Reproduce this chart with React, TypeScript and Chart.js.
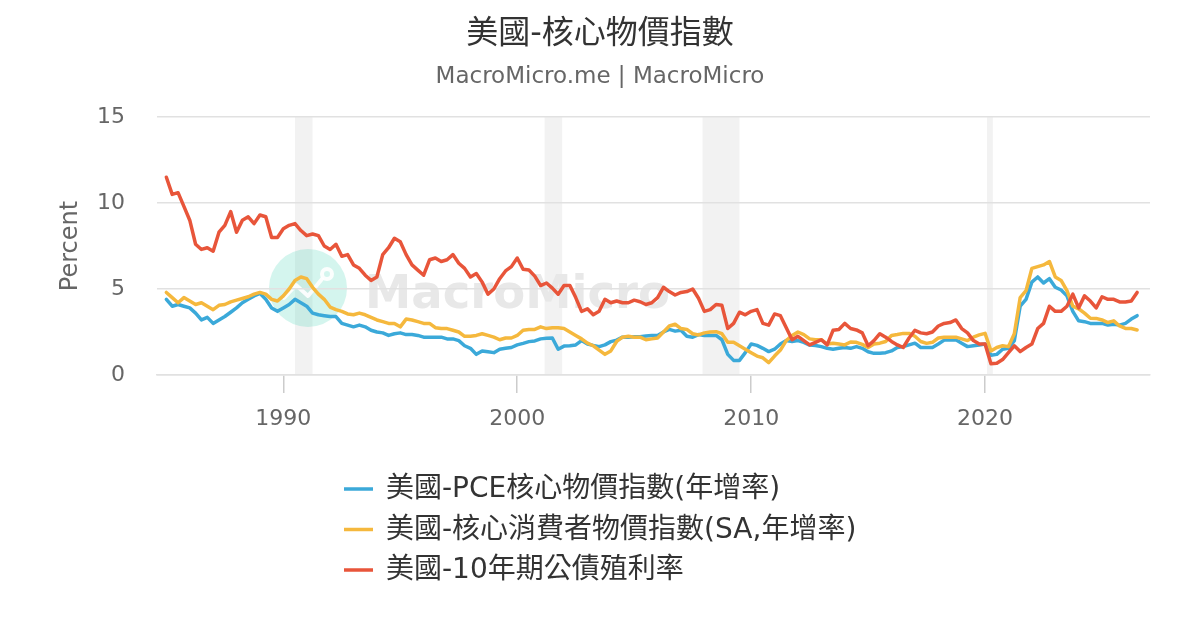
import React, { useEffect, useRef } from 'react';
import { Chart, registerables } from 'chart.js';

Chart.register(...registerables);

const FONT = "'DejaVu Sans', 'Noto Sans CJK TC', sans-serif";

const START_YEAR = 1985; // first quarter of the series, quarterly steps

// 美國-PCE核心物價指數(年增率)
const pceCore = [
  4.4, 4.0, 4.1, 4.0, 3.9, 3.6, 3.2, 3.35, 3.0, 3.2, 3.4, 3.65, 3.9, 4.2, 4.4, 4.6, 4.75, 4.4, 3.9, 3.7, 3.9, 4.1, 4.4, 4.2, 4.0, 3.6, 3.5, 3.45,
  3.4, 3.4, 3.0, 2.9, 2.8, 2.9, 2.8, 2.6, 2.5, 2.45, 2.3, 2.4, 2.45, 2.35, 2.35, 2.3, 2.2, 2.2, 2.2, 2.2, 2.1, 2.1, 2.0, 1.7, 1.55, 1.2, 1.4, 1.35,
  1.3, 1.5, 1.55, 1.6, 1.75, 1.84, 1.94, 1.98, 2.1, 2.13, 2.15, 1.5, 1.68, 1.7, 1.75, 2.0, 1.8, 1.72, 1.65, 1.75, 1.94, 2.03, 2.2, 2.2, 2.23, 2.23, 2.27, 2.3, 2.3,
  2.5, 2.65, 2.55, 2.6, 2.25, 2.2, 2.35, 2.3, 2.3, 2.3, 2.05, 1.2, 0.85, 0.85, 1.3, 1.8, 1.72, 1.55, 1.36, 1.5, 1.8, 2.0, 1.95, 2.0, 1.9, 1.74, 1.72, 1.65, 1.55, 1.5, 1.55,
  1.6, 1.55, 1.65, 1.55, 1.35, 1.26, 1.26, 1.3, 1.4, 1.6, 1.65, 1.75, 1.85, 1.6, 1.6, 1.6, 1.8, 2.03, 2.03, 2.05, 1.85, 1.65, 1.7, 1.74,
  1.8, 1.15, 1.2, 1.5, 1.55, 2.0, 4.0, 4.4, 5.4, 5.7, 5.35, 5.6, 5.1, 4.94, 4.6, 3.7, 3.15, 3.1, 3.0, 3.0, 3.0, 2.9, 2.95, 2.9, 3.0, 3.25, 3.45,
];

// 美國-核心消費者物價指數(SA,年增率)
const cpiCore = [
  4.8, 4.5, 4.2, 4.5, 4.3, 4.1, 4.2, 4.0, 3.8, 4.05, 4.1, 4.25, 4.35, 4.45, 4.55, 4.7, 4.8, 4.7, 4.4, 4.3, 4.6, 5.0, 5.5, 5.7, 5.6, 5.1, 4.7, 4.4,
  3.95, 3.8, 3.7, 3.55, 3.5, 3.6, 3.5, 3.35, 3.2, 3.1, 3.0, 3.0, 2.8, 3.25, 3.2, 3.1, 3.0, 3.0, 2.75, 2.7, 2.7, 2.6, 2.5, 2.25, 2.25, 2.3, 2.4, 2.3,
  2.2, 2.05, 2.15, 2.15, 2.3, 2.6, 2.65, 2.65, 2.8, 2.7, 2.75, 2.75, 2.7, 2.5, 2.3, 2.1, 1.85, 1.7, 1.45, 1.2, 1.4, 1.95, 2.2, 2.25, 2.2, 2.2, 2.05, 2.1, 2.15,
  2.5, 2.85, 2.95, 2.7, 2.65, 2.4, 2.33, 2.45, 2.5, 2.52, 2.4, 1.9, 1.9, 1.7, 1.5, 1.3, 1.1, 1.0, 0.72, 1.1, 1.45, 2.0, 2.3, 2.5, 2.35, 2.1, 2.05, 2.05, 1.8, 1.85, 1.8,
  1.75, 1.92, 1.9, 1.78, 1.6, 1.8, 1.85, 1.95, 2.3, 2.35, 2.42, 2.42, 2.25, 1.95, 1.84, 1.9, 2.15, 2.2, 2.2, 2.2, 2.1, 2.0, 2.2, 2.33,
  2.42, 1.4, 1.6, 1.7, 1.65, 2.4, 4.5, 4.9, 6.2, 6.3, 6.4, 6.6, 5.7, 5.5, 4.9, 4.0, 3.85, 3.6, 3.3, 3.29, 3.2, 3.05, 3.15, 2.85, 2.71, 2.7, 2.62,
];

// 美國-10年期公債殖利率
const tenYear = [
  11.5, 10.5, 10.6, 9.8, 9.0, 7.6, 7.3, 7.4, 7.2, 8.3, 8.7, 9.5, 8.3, 9.0, 9.2, 8.8, 9.3, 9.2, 8.0, 8.0, 8.5, 8.7, 8.8, 8.4, 8.1, 8.2, 8.1, 7.5,
  7.3, 7.6, 6.9, 7.0, 6.4, 6.2, 5.8, 5.5, 5.7, 7.0, 7.4, 7.95, 7.75, 7.0, 6.4, 6.1, 5.8, 6.7, 6.8, 6.6, 6.7, 7.0, 6.5, 6.2, 5.7, 5.9, 5.4, 4.7,
  5.0, 5.6, 6.05, 6.3, 6.8, 6.15, 6.1, 5.75, 5.2, 5.35, 5.05, 4.7, 5.2, 5.2, 4.5, 3.7, 3.85, 3.5, 3.7, 4.4, 4.2, 4.3, 4.2, 4.2, 4.35, 4.26, 4.1, 4.2, 4.5,
  5.1, 4.85, 4.65, 4.8, 4.85, 5.0, 4.46, 3.7, 3.8, 4.1, 4.05, 2.7, 3.0, 3.65, 3.5, 3.7, 3.8, 3.0, 2.9, 3.55, 3.45, 2.75, 2.05, 2.25, 2.0, 1.75, 1.9, 2.05, 1.75, 2.6, 2.65,
  3.0, 2.7, 2.62, 2.45, 1.7, 2.0, 2.4, 2.2, 1.95, 1.75, 1.6, 2.15, 2.6, 2.45, 2.4, 2.5, 2.85, 3.0, 3.05, 3.2, 2.7, 2.45, 2.0, 1.8,
  1.8, 0.65, 0.68, 0.9, 1.3, 1.7, 1.36, 1.6, 1.8, 2.7, 3.0, 4.0, 3.7, 3.7, 4.0, 4.7, 3.9, 4.6, 4.3, 3.9, 4.55, 4.4, 4.4, 4.25, 4.25, 4.3, 4.8,
];

const seriesLabels = ['美國-PCE核心物價指數(年增率)', '美國-核心消費者物價指數(SA,年增率)', '美國-10年期公債殖利率'];
const seriesColors = ['#3ba9d9', '#f5b83d', '#e8553a'];

const xTickYears = [1990, 2000, 2010, 2020];
const yTickValues = [0, 5, 10, 15];

const recessionStart = [1990.5, 2001.17, 2007.92, 2020.08];
const recessionEnd = [1991.25, 2001.92, 2009.5, 2020.33];

const TITLE = '美國-核心物價指數';
const SUBTITLE = 'MacroMicro.me | MacroMicro';

const quarterDates = tenYear.map((_, i) => START_YEAR + i / 4);
const toPoints = (vals: number[]) => vals.map((v, i) => ({ x: quarterDates[i], y: v }));

const decorPlugin = {
  id: 'decor',
  beforeDraw(chart: any) {
    const { ctx, chartArea, scales } = chart;
    const xs = scales.x;
    ctx.save();
    // recession bands
    ctx.fillStyle = '#f2f2f2';
    recessionStart.forEach((s, i) => {
      const x0 = xs.getPixelForValue(s);
      const x1 = xs.getPixelForValue(recessionEnd[i]);
      ctx.fillRect(x0, chartArea.top, x1 - x0, chartArea.bottom - chartArea.top);
    });
    // watermark
    const cx = 308;
    const cy = 288;
    ctx.beginPath();
    ctx.arc(cx, cy, 39, 0, Math.PI * 2);
    ctx.fillStyle = 'rgba(84, 214, 186, 0.25)';
    ctx.fill();
    ctx.strokeStyle = 'rgba(255,255,255,0.9)';
    ctx.lineWidth = 4;
    ctx.lineCap = 'round';
    ctx.lineJoin = 'round';
    ctx.beginPath();
    ctx.moveTo(cx - 24, cy + 10);
    ctx.lineTo(cx - 12, cy - 3);
    ctx.lineTo(cx, cy + 8);
    ctx.lineTo(cx + 14, cy - 9);
    ctx.stroke();
    ctx.beginPath();
    ctx.arc(cx + 19, cy - 14, 5, 0, Math.PI * 2);
    ctx.stroke();
    let size = 50;
    ctx.font = `bold ${size}px ${FONT}`;
    const w = ctx.measureText('MacroMicro').width;
    size = size * 305 / w;
    ctx.font = `bold ${size}px ${FONT}`;
    ctx.fillStyle = '#e8e8e8';
    ctx.textAlign = 'left';
    ctx.textBaseline = 'alphabetic';
    ctx.fillText('MacroMicro', 365, 308);
    ctx.restore();
  },
  afterDraw(chart: any) {
    const { ctx, width } = chart;
    ctx.save();
    ctx.textAlign = 'center';
    ctx.textBaseline = 'middle';
    ctx.fillStyle = '#333333';
    ctx.font = `32px ${FONT}`;
    ctx.fillText(TITLE, width / 2, 35);
    ctx.fillStyle = '#666666';
    ctx.font = `23px ${FONT}`;
    ctx.fillText(SUBTITLE, width / 2, 77);
    // legend
    const left = 344;
    const top = 489;
    const gap = 40.5;
    ctx.textAlign = 'left';
    ctx.font = `28px ${FONT}`;
    seriesLabels.forEach((label, i) => {
      const y = top + i * gap;
      ctx.strokeStyle = seriesColors[i];
      ctx.lineWidth = 3.5;
      ctx.beginPath();
      ctx.moveTo(left, y);
      ctx.lineTo(left + 29, y);
      ctx.stroke();
      ctx.fillStyle = '#333333';
      ctx.fillText(label, left + 42, y + 1);
    });
    ctx.restore();
  },
};

export default function App() {
  const canvasRef = useRef<HTMLCanvasElement | null>(null);

  useEffect(() => {
    document.body.style.margin = '0';
    const canvas = canvasRef.current;
    if (!canvas) return;
    const chart = new Chart(canvas, {
      type: 'line',
      data: {
        datasets: [
          { label: seriesLabels[0], data: toPoints(pceCore), borderColor: seriesColors[0], backgroundColor: seriesColors[0], order: 3 },
          { label: seriesLabels[1], data: toPoints(cpiCore), borderColor: seriesColors[1], backgroundColor: seriesColors[1], order: 2 },
          { label: seriesLabels[2], data: toPoints(tenYear), borderColor: seriesColors[2], backgroundColor: seriesColors[2], order: 1 },
        ],
      },
      options: {
        responsive: false,
        animation: false,
        layout: { padding: { top: 117, left: 0, right: 50, bottom: 195 } },
        elements: {
          point: { radius: 0, hoverRadius: 0 },
          line: { borderWidth: 3.5, tension: 0, borderJoinStyle: 'round', borderCapStyle: 'round' },
        },
        plugins: {
          legend: { display: false },
          title: { display: false },
          tooltip: { enabled: false },
        },
        scales: {
          x: {
            type: 'linear',
            min: 1984.6,
            max: 2027.05,
            afterBuildTicks: (scale: any) => {
              scale.ticks = xTickYears.map((v) => ({ value: v }));
            },
            afterFit: (scale: any) => {
              scale.height = 60;
            },
            grid: { drawOnChartArea: false, drawTicks: true, tickLength: 18, color: '#cccccc', lineWidth: 1.5 },
            border: { display: true, color: '#e1e1e1', width: 1.5 },
            ticks: {
              autoSkip: false,
              maxRotation: 0,
              padding: 13,
              color: '#666666',
              font: { family: FONT, size: 22 },
              callback: (v: any) => String(v),
            },
          },
          y: {
            min: 0,
            max: 15,
            afterBuildTicks: (scale: any) => {
              scale.ticks = yTickValues.map((v) => ({ value: v }));
            },
            afterFit: (scale: any) => {
              scale.width = 157;
            },
            grid: { color: '#e1e1e1', lineWidth: 1.5, drawTicks: false },
            border: { display: false },
            ticks: {
              padding: 32,
              color: '#666666',
              font: { family: FONT, size: 22 },
              callback: (v: any) => String(v),
            },
            title: {
              display: true,
              text: 'Percent',
              color: '#666666',
              font: { family: FONT, size: 24 },
              padding: { top: 56, bottom: 0 },
            },
          },
        },
      },
      plugins: [decorPlugin],
    } as any);
    return () => chart.destroy();
  }, []);

  return (
    <div style={{ width: 1200, height: 630, background: '#ffffff' }}>
      <canvas ref={canvasRef} width={1200} height={630} style={{ display: 'block' }} />
    </div>
  );
}
